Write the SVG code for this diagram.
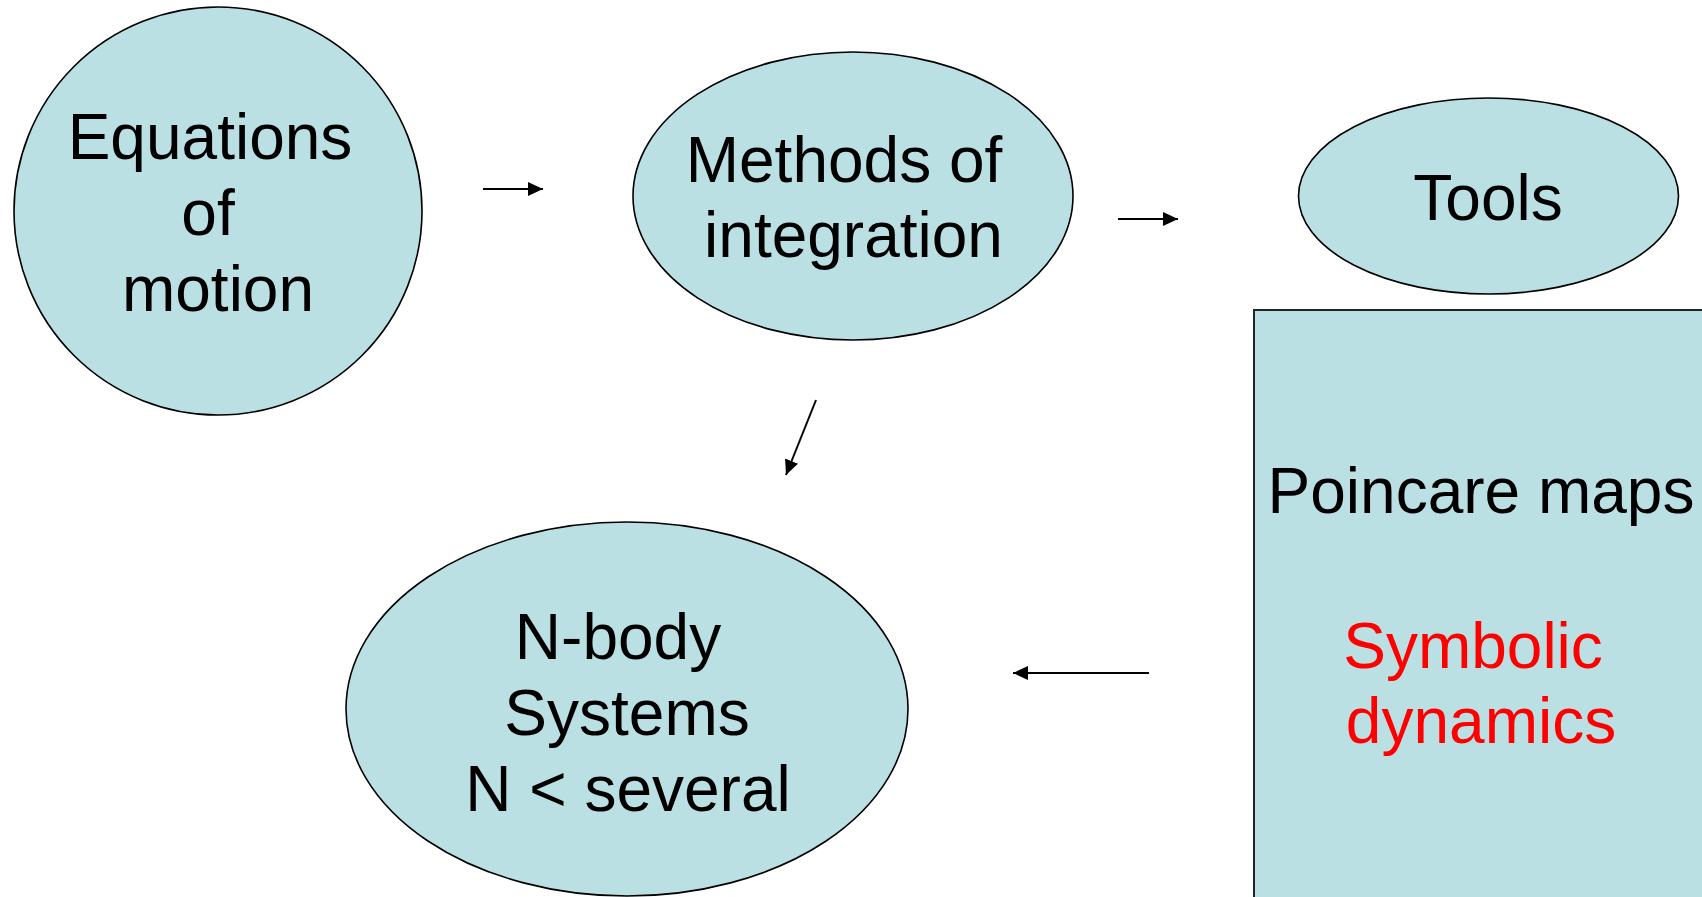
<svg xmlns="http://www.w3.org/2000/svg" width="1702" height="897" viewBox="0 0 1702 897">
<defs>
<style>
.shape{fill:#BBE0E3;stroke:#000;stroke-width:1.6}
.box{fill:#BBE0E3;stroke:#222;stroke-width:2}
.t{font-family:"Liberation Sans",Arial,sans-serif;font-size:64px;fill:#000;text-anchor:middle}
.red{fill:#FF0000}
.c{stroke:#000;stroke-width:2;fill:none;marker-end:url(#ah)}
</style>
<marker id="ah" markerWidth="16" markerHeight="14" refX="15" refY="7" orient="auto" markerUnits="userSpaceOnUse">
<path d="M0,0 L15,7 L0,14 Z" fill="#000"/>
</marker>
</defs>
<rect width="1702" height="897" fill="#fff"/>
<g id="equations">
<circle class="shape" cx="218" cy="211" r="204"/>
<text class="t" x="210" y="159">Equations</text>
<text class="t" x="208" y="235">of</text>
<text class="t" x="218" y="311">motion</text>
</g>
<g id="methods">
<ellipse class="shape" cx="853" cy="196" rx="220" ry="144"/>
<text class="t" x="844" y="182">Methods of</text>
<text class="t" x="853.5" y="257">integration</text>
</g>
<g id="tools">
<ellipse class="shape" cx="1488.5" cy="196" rx="190" ry="98"/>
<text class="t" x="1488" y="220">Tools</text>
</g>
<g id="toolbox">
<rect class="box" x="1254" y="310" width="470" height="600"/>
<text class="t" x="1481" y="513">Poincare maps</text>
<text class="t red" x="1473" y="668">Symbolic</text>
<text class="t red" x="1481" y="743">dynamics</text>
</g>
<g id="nbody">
<ellipse class="shape" cx="627" cy="709" rx="281" ry="187"/>
<text class="t" x="618" y="659">N-body</text>
<text class="t" x="627" y="735">Systems</text>
<text class="t" x="628" y="811">N &lt; several</text>
</g>
<g id="connectors">
<line class="c" x1="483" y1="189" x2="543" y2="189"/>
<line class="c" x1="1118" y1="219" x2="1178" y2="219"/>
<line class="c" x1="816" y1="400" x2="786" y2="475"/>
<line class="c" x1="1149" y1="673" x2="1013" y2="673"/>
</g>
</svg>
